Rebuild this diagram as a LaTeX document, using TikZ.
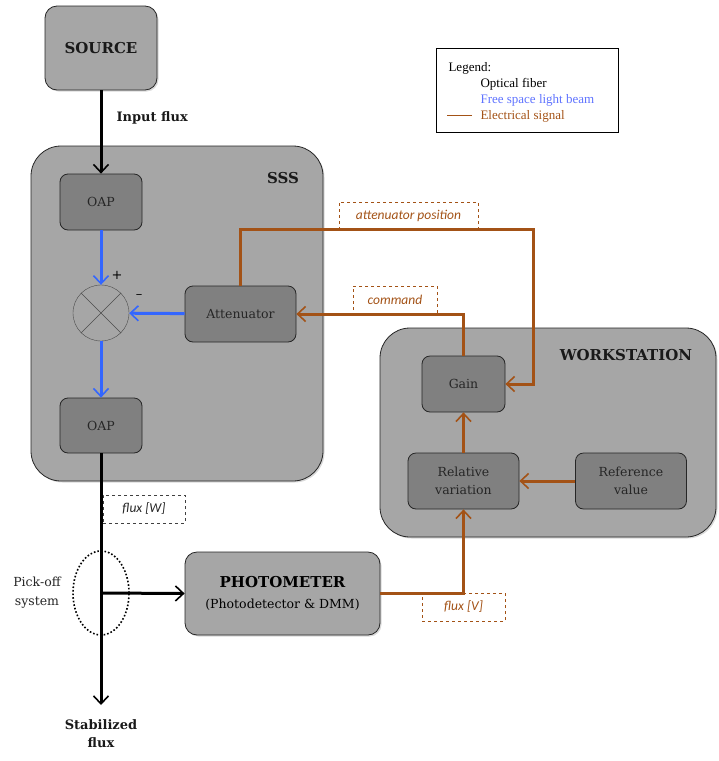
\documentclass[tikz,border=0pt]{standalone}
\usepackage{fontspec}
\setmainfont{DejaVu Serif}
\newfontfamily\legfont{Liberation Serif}
\newfontfamily\notefont{Carlito}
\usetikzlibrary{arrows.meta,shapes.geometric,shadows}
\definecolor{boxgray}{HTML}{A6A6A6}
\definecolor{innergray}{HTML}{808080}
\definecolor{elec}{RGB}{163,82,22}
\definecolor{beam}{RGB}{51,102,255}
\definecolor{legblue}{RGB}{95,115,255}

\begin{document}
\begin{tikzpicture}[x=1pt,y=-1pt,>={Straight Barb[length=8pt,width=15pt,line width=1.6pt]}]
\tikzset{outerbox/.style={draw=black!85,fill=boxgray,thick,drop shadow={opacity=0.3,shadow xshift=1.5pt,shadow yshift=-1.5pt}},
  innerbox/.style={draw=black!85,fill=innergray,thick,rounded corners=8pt,text=black!85,font=\fontsize{12.5}{18}\selectfont,align=center},
  titletext/.style={font=\bfseries\fontsize{15}{18}\selectfont,text=black!90},
  fluxtext/.style={font=\bfseries\fontsize{13}{18}\selectfont,text=black!90,align=center},
  notebox/.style={draw,dashed,thick,font=\notefont\itshape\fontsize{13.5}{16}\selectfont},
  fiber/.style={line width=3pt,->},
  freebeam/.style={line width=3pt,beam,->},
  signal/.style={line width=3pt,elec}}
\useasboundingbox (0,0) rectangle (719,761);

\node[outerbox,rounded corners=30pt,minimum width=292pt,minimum height=335pt] (sss) at (177,313.5) {};
\node[outerbox,rounded corners=30pt,minimum width=336pt,minimum height=209pt] (ws) at (548,432.5) {};
\node[outerbox,rounded corners=12pt,minimum width=112pt,minimum height=84pt,titletext] (source) at (101,48) {SOURCE};
\node[outerbox,rounded corners=12pt,minimum width=195pt,minimum height=83pt,align=center,font=\fontsize{12.5}{21}\selectfont] (phot) at (282.5,593.5)
  {{\bfseries\fontsize{15}{18}\selectfont PHOTOMETER}\\(Photodetector \& DMM)};
\node[titletext] at (283,178) {SSS};
\node[titletext] at (626,355) {WORKSTATION};

\node[innerbox,minimum width=82pt,minimum height=56pt] (oapin) at (101,202) {OAP};
\node[innerbox,minimum width=82pt,minimum height=55pt] (oapout) at (101,425.5) {OAP};
\node[draw=black!70,circle,minimum size=56pt,inner sep=0pt] (sum) at (101,313) {};
\draw[black!70] (sum.45) -- (sum.225) (sum.135) -- (sum.315);
\node[font=\fontsize{13}{13}\selectfont] at (117,275) {+};
\node[font=\fontsize{13}{13}\selectfont] at (139,297) {--};
\node[innerbox,minimum width=111pt,minimum height=56pt] (att) at (240.5,314) {Attenuator};
\node[innerbox,minimum width=83pt,minimum height=56pt] (gain) at (463.5,384) {Gain};
\node[innerbox,minimum width=111pt,minimum height=56pt] (relvar) at (463.5,481) {Relative\\variation};
\node[innerbox,minimum width=111pt,minimum height=56pt] (refval) at (631,481) {Reference\\value};

\node[notebox,elec,minimum width=139pt,minimum height=27pt] (attpos) at (408.5,215.5) {attenuator position};
\node[notebox,elec,minimum width=84pt,minimum height=27pt] (cmd) at (395,299.5) {command};
\node[notebox,elec,minimum width=83pt,minimum height=28pt] (fluxv) at (463.5,607) {flux [V]};
\node[notebox,black!75,text=black!85,minimum width=82pt,minimum height=28pt] (fluxw) at (144,509) {flux [W]};

\node[draw,dotted,ultra thick,ellipse,minimum width=56pt,minimum height=84pt] (pickoff) at (101,593) {};
\node[align=center,text=black!85,font=\fontsize{12.5}{19}\selectfont] at (37,593) {Pick-off\\system};
\node[fluxtext,anchor=west] at (113,118) {Input flux};
\node[fluxtext] (stab) at (101,734) {Stabilized\\flux};
\coordinate (outflux) at (101,705);
\coordinate (attbend) at (533,229);

\draw[fiber] (source) -- (oapin);
\draw[fiber] (oapout) -- (outflux);
\draw[fiber] (pickoff.center) -- (phot.west);
\draw[freebeam] (oapin) -- (sum);
\draw[freebeam] (att) -- (sum);
\draw[freebeam] (sum) -- (oapout);

\draw[signal,->] (phot.east) -| (relvar.south);
\draw[signal,->] (refval) -- (relvar);
\draw[signal,->] (relvar) -- (gain);
\draw[signal,->] (gain.north) |- (att.east);
\draw[signal,->] (att.north) |- (attbend) |- (gain.east);

\node[draw,thick,minimum width=182pt,minimum height=84pt] (legend) at (527,90) {};
\begin{scope}[font=\legfont\fontsize{13}{16}\selectfont]
\node[anchor=base west] at (445,71) {Legend:};
\node[anchor=base west] at (477,87) {Optical fiber};
\node[anchor=base west,text=legblue] at (477,103) {Free space light beam};
\node[anchor=base west,text=elec] (legelec) at (477,119) {Electrical signal};
\end{scope}
\draw[elec,thick] ([xshift=-5pt]legelec.west) -- ++(-25,0);
\end{tikzpicture}
\end{document}
